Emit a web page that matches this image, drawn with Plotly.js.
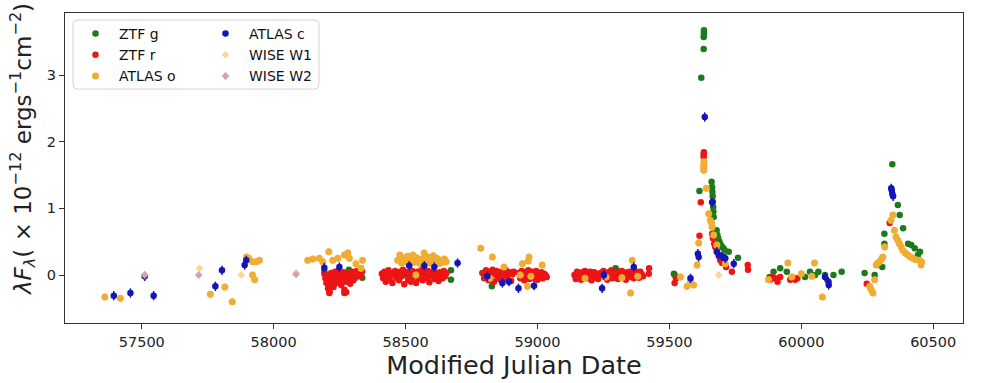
<!DOCTYPE html>
<html>
<head>
<meta charset="utf-8">
<script src="https://cdn.plot.ly/plotly-3.0.1.min.js"></script>
<style>html,body{margin:0;padding:0;background:#fff;}#chart{width:1000px;height:383px;}</style>
</head>
<body>
<div id="chart"></div>
<script>
// ---------------- DATA (MJD, lambda F_lambda in 1e-12 erg s^-1 cm^-2) ----------------
const ztfgMjd = [58192,58285,58331,58336,58450,58520,58600,58672,58672,58791,58798,58827,58950,59150,59230,59296,59300,
  59517,59520,59614,59621,59630,59630,59631,59631,59631,59660,59662,59663,59664,59665,59666,59667,59668,
  59679,59682,59685,59690,59695,59700,59705,59710,59725,59760,
  59880,59895,59920,59945,60014,60033,60052,60065,60090,60122,60153,
  60240,60278,60307,60315,60315,60345,60366,60373,60386,60405,60417,60430,60442,60450];
const ztfgFlux = [0.06,0.08,0.10,-0.04,0.02,-0.03,0.00,0.07,-0.07,0.03,-0.05,-0.17,0.02,0.02,-0.02,0.10,0.07,
  0.02,0.00,1.26,2.96,3.39,3.57,3.60,3.63,3.67,1.40,1.32,1.25,1.18,1.10,1.02,0.95,0.87,
  0.67,0.60,0.55,0.50,0.45,0.42,0.40,0.37,0.35,0.26,
  -0.03,0.05,0.10,0.05,-0.03,0.05,0.00,0.05,0.00,0.00,0.05,
  0.03,0.00,0.12,0.47,0.62,1.66,1.05,0.90,0.70,0.47,0.45,0.40,0.30,0.35];

const ztfrMjd = [58192,58196,58200,58203,58206,58209,58211,58212,58215,58218,58221,58224,58227,58230,58233,58236,58240,58244,58248,58252,58256,58260,58264,58268,58268,58272,58275,58278,58282,58286,58290,58294,58298,58302,58306,58310,58315,58320,58325,58330,58335,
  58410,58415,58420,58425,58430,58435,58440,58445,58450,58455,58460,58465,58470,58475,58480,58485,58490,58495,58500,58505,58510,58515,58520,58525,58530,58535,58540,58545,58550,58555,58560,58565,58570,58575,58580,58585,58590,58595,58600,58605,58610,58615,58620,58625,58630,58635,58640,58645,58650,58655,
  58795,58800,58805,58810,58815,58820,58825,58830,58835,58840,58845,58850,58855,58860,58865,58870,58875,58880,58885,58890,58895,58900,58905,58910,58930,58935,58940,58945,58950,58955,58960,58965,58970,58975,58980,58985,58990,58995,59000,59005,59010,59015,59020,59025,59030,59035,
  59140,59145,59150,59155,59160,59165,59170,59175,59180,59185,59190,59195,59200,59205,59210,59215,59220,59225,59230,59240,59250,59255,59260,59265,59270,59275,59280,59285,59290,59295,59300,59305,59310,59315,59320,59325,59330,59335,59340,59345,59350,59355,59360,59365,59370,59375,59380,59385,59390,59395,59400,59422,59423,
  59520,59525,59614,59619,59630,59630,59631,59662,59665,59670,59674,59680,59688,59693,59700,59715,59737,59797,59798,
  59882,59890,59901,59910,59920,59958,59965,59977,59985,
  60248,60335];
const ztfrFlux = [0.02,-0.05,-0.12,0.00,-0.20,-0.08,-0.27,-0.25,-0.15,0.03,-0.10,-0.02,-0.18,-0.05,0.05,-0.12,-0.03,0.06,-0.08,0.02,-0.15,-0.04,0.04,-0.22,-0.27,-0.10,-0.26,0.00,-0.06,0.03,-0.13,-0.02,0.05,-0.08,0.02,-0.04,0.06,0.00,0.04,-0.02,0.05,
  0.02,-0.05,0.05,-0.10,0.00,0.07,-0.06,0.03,-0.12,0.01,0.06,-0.04,0.02,-0.08,0.05,-0.02,0.08,-0.14,0.00,0.04,-0.07,0.03,-0.10,0.06,-0.03,0.01,-0.12,0.05,-0.05,0.02,0.07,-0.08,0.00,0.04,-0.04,0.06,-0.11,0.02,-0.02,0.05,-0.06,0.03,0.00,-0.09,0.04,0.01,-0.05,0.06,-0.02,0.03,
  0.03,-0.04,0.07,0.00,-0.08,0.05,-0.02,0.08,-0.10,0.02,0.06,-0.05,0.03,-0.07,0.05,0.00,-0.03,0.07,-0.06,0.02,0.04,-0.09,0.01,0.05,0.03,-0.05,0.06,0.00,-0.08,0.04,-0.02,0.07,-0.06,0.02,0.05,-0.04,0.00,0.06,-0.07,0.03,-0.02,0.04,-0.05,0.02,0.00,-0.03,
  0.00,-0.06,0.05,-0.02,0.03,-0.07,0.04,-0.03,0.06,0.00,-0.05,0.02,0.05,-0.08,0.01,0.04,-0.04,0.02,-0.06,0.03,0.06,-0.03,0.02,-0.07,0.04,0.00,0.07,-0.05,0.02,-0.02,0.05,-0.06,0.03,0.00,0.06,-0.04,0.02,-0.07,0.04,0.00,0.05,-0.03,0.02,-0.05,0.06,0.00,0.03,-0.04,0.05,0.01,-0.02,0.02,0.10,
  -0.12,-0.05,0.59,1.09,1.77,1.81,1.84,0.62,0.55,0.47,0.42,0.35,0.28,0.22,0.18,0.12,0.05,0.15,0.08,
  -0.07,-0.03,-0.05,-0.10,-0.03,-0.07,-0.03,-0.07,-0.05,
  -0.13,0.78];

const atlasoMjd = [57360,57419,57760,57815,57843,57897,57905,57920,57934,57946,57920,57928,
  58129,58148,58173,58186,58209,58224,58243,58268,58281,58287,58312,58337,58331,
  58470,58478,58485,58492,58500,58507,58514,58521,58528,58535,58542,58549,58556,58563,58570,58577,58584,58591,58598,58605,58612,58619,58626,58633,58640,58647,58654,58539,
  58785,58829,58873,58943,58965,58968,59018,58962,58935,58975,58820,
  59359,59353,59180,59260,59320,59380,
  59542,59567,59580,59592,59605,59611,59630,59630,59631,59631,59640,59649,59655,59660,59662,59668,59680,59695,59712,
  59876,59949,59964,60000,60040,60050,60080,
  60259,60265,60272,60278,60284,60290,60297,60304,60309,60316,60340,60347,60353,60359,60366,60372,60379,60385,60394,60404,60414,60423,60434,60448,60454,60456];
const atlasoFlux = [-0.33,-0.35,-0.29,-0.18,-0.40,0.27,0.25,0.20,0.20,0.22,0.00,-0.07,
  0.22,0.24,0.25,0.20,0.35,0.22,0.25,0.30,0.33,0.25,0.17,0.22,0.10,
  0.22,0.30,0.18,0.25,0.20,0.28,0.16,0.23,0.30,0.19,0.26,0.21,0.17,0.24,0.33,0.20,0.27,0.18,0.22,0.29,0.20,0.25,0.17,0.22,0.19,0.24,0.20,0.00,
  0.40,0.27,0.12,0.17,0.21,0.27,0.15,-0.17,0.00,-0.02,-0.05,
  0.22,-0.27,-0.05,-0.03,-0.04,-0.02,
  -0.03,-0.17,-0.10,-0.15,0.15,0.48,1.57,1.62,1.66,1.70,1.30,0.92,0.82,0.78,0.72,0.60,0.45,0.30,0.17,
  -0.07,0.18,-0.03,0.02,-0.02,0.18,-0.33,
  -0.17,-0.22,-0.27,-0.07,0.15,0.18,0.20,0.24,0.27,0.42,0.82,0.90,0.67,0.57,0.52,0.47,0.42,0.37,0.33,0.30,0.27,0.25,0.23,0.22,0.15,0.20];

const atlascMjd = [57394,57457,57511,57545,57779,57804,57890,57896,
  58192,58249,58514,58571,58609,58697,
  58810,58867,58892,58928,58987,59245,59252,59365,
  59580,59608,59611,59634,59662,59680,59687,59700,59712,59744,
  60090,60103,60104,60341,60343,60345,60348];
const atlascFlux = [-0.31,-0.27,-0.02,-0.31,-0.17,0.07,0.15,0.22,
  0.11,0.12,0.14,0.14,0.12,0.18,
  -0.02,-0.12,-0.10,-0.20,-0.16,-0.20,0.00,0.12,
  -0.05,0.32,0.27,2.37,1.09,0.35,0.30,0.28,0.25,0.17,
  -0.03,-0.10,-0.15,1.30,1.27,1.22,1.18];

const wise1Mjd = [57719,57877,58085,59687];
const wise1Flux = [0.10,0.00,0.03,0.00];
const wise2Mjd = [57511,57716,58085];
const wise2Flux = [0.00,0.00,0.01];

const seriesNames = ["ZTF g","ZTF r","ATLAS o","ATLAS c","WISE W1","WISE W2"];
const xTicks = [57500,58000,58500,59000,59500,60000,60500];
const yTicks = [0,1,2,3];

// ---------------- FIGURE ----------------
const W = 1000, H = 383, L = 65, R = 37, T = 13, B = 60;
const pw = W - L - R, ph = H - T - B;
const px = v => (v - L) / pw;           // pixel -> paper x
const py = v => (H - B - v) / ph;       // pixel -> paper y

function tr(name, x, y, color, size, err, symbol, legend, rank) {
  return {
    type: 'scatter', mode: 'markers', name: name, x: x, y: y,
    marker: {color: color, size: size, symbol: symbol || 'circle', line: {width: 0}},
    error_y: err ? {type: 'constant', value: err, color: color, thickness: 1.5, width: 0} : undefined,
    legend: legend, legendrank: rank, cliponaxis: true
  };
}

const traces = [
  tr(seriesNames[0], ztfgMjd, ztfgFlux, '#1c7a1c', 6.5, 0.02, 'circle', 'legend', 1),
  tr(seriesNames[1], ztfrMjd, ztfrFlux, '#ec1414', 6.5, 0.02, 'circle', 'legend', 2),
  tr(seriesNames[2], atlasoMjd, atlasoFlux, '#f0ad33', 7, 0.05, 'circle', 'legend', 3),
  tr(seriesNames[3], atlascMjd, atlascFlux, '#1414b8', 6.5, 0.07, 'circle', 'legend2', 4),
  tr(seriesNames[4], wise1Mjd, wise1Flux, '#f6d898', 6, 0, 'diamond', 'legend2', 5),
  tr(seriesNames[5], wise2Mjd, wise2Flux, '#d9a0ae', 6, 0, 'diamond', 'legend2', 6)
];

const fontFam = 'DejaVu Sans, sans-serif';
const legendCommon = {
  bgcolor: 'rgba(0,0,0,0)', borderwidth: 0, font: {family: fontFam, size: 14, color: '#111'},
  yanchor: 'top', xanchor: 'left', itemwidth: 37, traceorder: 'normal'
};

const rx = 4 / pw, ry = 4 / ph;
const x0 = px(73), x1 = px(319), y0 = py(89), y1 = py(20);
const boxPath = `M ${x0+rx},${y1} L ${x1-rx},${y1} Q ${x1},${y1} ${x1},${y1-ry} L ${x1},${y0+ry} Q ${x1},${y0} ${x1-rx},${y0} L ${x0+rx},${y0} Q ${x0},${y0} ${x0},${y0+ry} L ${x0},${y1-ry} Q ${x0},${y1} ${x0+rx},${y1} Z`;

const layout = {
  width: W, height: H,
  margin: {l: L, r: R, t: T, b: B, pad: 0},
  paper_bgcolor: '#fff', plot_bgcolor: '#fff',
  font: {family: fontFam, color: '#222'},
  showlegend: true,
  xaxis: {
    range: [57209, 60613], tickvals: xTicks, ticktext: xTicks.map(String),
    showgrid: false, zeroline: false, showline: true, mirror: true, linecolor: '#333', linewidth: 1.2,
    ticks: 'outside', ticklen: 5, tickwidth: 1, tickcolor: '#333',
    tickfont: {family: fontFam, size: 14.5, color: '#222'},
    title: {text: 'Modified Julian Date', font: {family: fontFam, size: 25.5, color: '#222'}, standoff: 4}
  },
  yaxis: {
    range: [-0.72, 3.93], tickvals: yTicks, ticktext: yTicks.map(String),
    showgrid: false, zeroline: false, showline: true, mirror: true, linecolor: '#333', linewidth: 1.2,
    ticks: 'outside', ticklen: 5, tickwidth: 1, tickcolor: '#333',
    tickfont: {family: fontFam, size: 14.5, color: '#222'}
  },
  annotations: [{
    text: '<i>λF</i><sub><i>λ</i></sub>( × 10<sup>−12</sup> ergs<sup>−1</sup>cm<sup>−2</sup>)',
    xref: 'paper', yref: 'paper', x: px(22), y: py(150), xanchor: 'center', yanchor: 'middle',
    textangle: -90, showarrow: false, font: {family: fontFam, size: 23, color: '#222'}
  }],
  shapes: [{
    type: 'path', xref: 'paper', yref: 'paper', path: boxPath,
    line: {color: '#d4d4d4', width: 1}, fillcolor: 'rgba(255,255,255,0.8)', layer: 'above'
  }],
  legend: Object.assign({}, legendCommon, {x: px(72), y: py(18)}),
  legend2: Object.assign({}, legendCommon, {x: px(202), y: py(18)})
};

Plotly.newPlot('chart', traces, layout, {displayModeBar: false, staticPlot: true});
</script>
</body>
</html>
